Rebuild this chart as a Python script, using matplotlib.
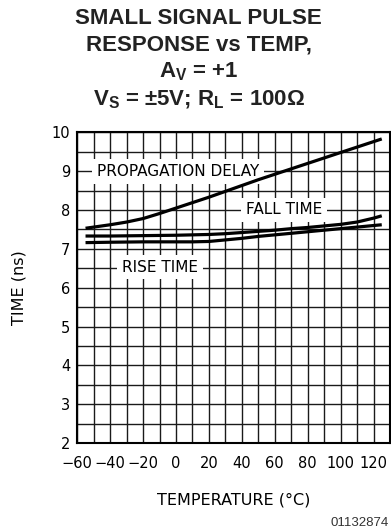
"""Small signal pulse response vs temperature (datasheet-style grid chart)."""
import matplotlib
matplotlib.use("Agg")
import matplotlib.pyplot as plt
from matplotlib.ticker import MultipleLocator

# curves, deg C -> ns
prop_temp = [-55, -50, -40, -30, -20, -10, 0, 10, 20, 30, 40, 50, 60, 70, 80, 90, 100, 110, 120, 125]
prop_delay_ns = [7.53, 7.56, 7.62, 7.69, 7.78, 7.91, 8.05, 8.19, 8.33, 8.48, 8.63, 8.78, 8.92,
                 9.06, 9.20, 9.34, 9.48, 9.62, 9.76, 9.83]
fall_temp = [-55, -40, -20, 0, 20, 30, 40, 50, 60, 70, 80, 90, 100, 110, 120, 125]
fall_time_ns = [7.33, 7.33, 7.34, 7.35, 7.37, 7.39, 7.42, 7.45, 7.48, 7.52, 7.55, 7.59, 7.63,
                7.69, 7.79, 7.85]
rise_temp = [-55, -40, -20, 0, 10, 20, 30, 40, 50, 60, 70, 80, 90, 100, 110, 120, 125]
rise_time_ns = [7.16, 7.17, 7.18, 7.18, 7.18, 7.19, 7.23, 7.27, 7.32, 7.36, 7.40, 7.44, 7.48,
                7.52, 7.56, 7.60, 7.62]

x_ticks = [-60, -40, -20, 0, 20, 40, 60, 80, 100, 120]
y_ticks = [2, 3, 4, 5, 6, 7, 8, 9, 10]

plt.rcParams["mathtext.fontset"] = "custom"
plt.rcParams["mathtext.rm"] = "Liberation Sans:bold"
plt.rcParams["mathtext.bf"] = "Liberation Sans:bold"
plt.rcParams["mathtext.it"] = "Liberation Sans:bold"

LABEL_FONT = ["DejaVu Sans"]

fig = plt.figure(figsize=(3.91, 5.31), dpi=100)
ax = fig.add_axes([0.1977, 0.1657, 0.7997, 0.5851])

ax.set_xlim(-60, 130)
ax.set_ylim(2, 10)
ax.set_xticks(x_ticks)
ax.set_yticks(y_ticks)
ax.xaxis.set_minor_locator(MultipleLocator(10))
ax.yaxis.set_minor_locator(MultipleLocator(0.5))
ax.grid(which="both", color="#1a1a1a", linewidth=1.0)
ax.set_axisbelow(True)
ax.tick_params(which="both", length=0, labelsize=10.5)
ax.tick_params(axis="x", pad=9)
ax.tick_params(axis="y", pad=5)
for lbl in ax.get_xticklabels() + ax.get_yticklabels():
    lbl.set_family(LABEL_FONT)
for sp in ax.spines.values():
    sp.set_linewidth(1.5)

# curves sit above the white label boxes
for xs, ys in ((prop_temp, prop_delay_ns), (fall_temp, fall_time_ns), (rise_temp, rise_time_ns)):
    ax.plot(xs, ys, color="black", linewidth=2.3, solid_capstyle="butt", zorder=5)

box = dict(facecolor="white", edgecolor="none", pad=3.5)
ax.text(1.3, 9.0, "PROPAGATION DELAY", ha="center", va="center", fontsize=11,
        family=LABEL_FONT, bbox=box, zorder=4)
ax.text(65.6, 8.0, "FALL TIME", ha="center", va="center", fontsize=11,
        family=LABEL_FONT, bbox=box, zorder=4)
ax.text(-9.8, 6.53, "RISE TIME", ha="center", va="center", fontsize=11,
        family=LABEL_FONT, bbox=box, zorder=4)

ax.set_xlabel("TEMPERATURE (°C)", fontsize=11.5, family=LABEL_FONT, labelpad=16)
ax.set_ylabel("TIME (ns)", fontsize=11.5, family=LABEL_FONT, labelpad=18)

title_kw = dict(ha="center", va="center", fontsize=16, fontweight="bold",
                family="Liberation Sans", color="#222222")
fig.text(0.508, 1 - 18 / 531, "SMALL SIGNAL PULSE", **title_kw)
fig.text(0.508, 1 - 45 / 531, "RESPONSE vs TEMP,", **title_kw)
fig.text(0.508, 1 - 72 / 531, r"A$_\mathrm{V}$ = +1", **title_kw)
fig.text(0.508, 1 - 100 / 531, r"V$_\mathrm{S}$ = ±5V; R$_\mathrm{L}$ = 100Ω", **title_kw)

fig.text(0.995, 1 - 523 / 531, "01132874", ha="right", va="center", fontsize=9.5,
         family="Liberation Sans", color="#333333")

fig.savefig("out.png", dpi=100)
